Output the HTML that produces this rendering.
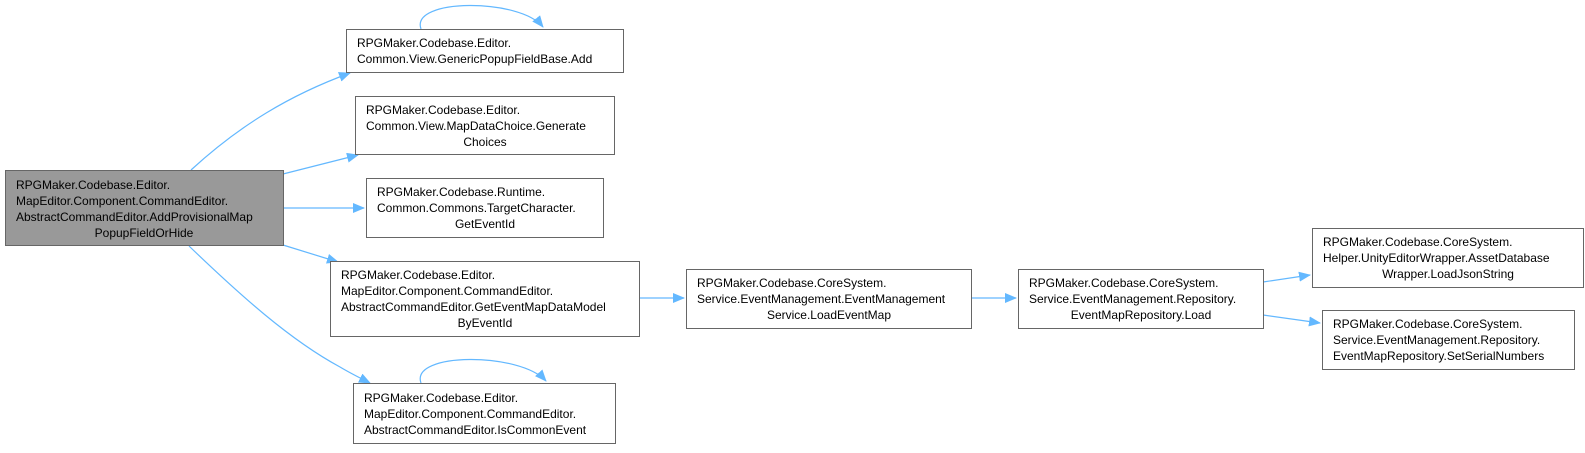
<!DOCTYPE html>
<html><head><meta charset="utf-8"><style>
body{margin:0;background:#fff;}
svg text{font-family:"Liberation Sans",Arial,sans-serif;font-size:12px;fill:#000;}
</style></head><body>
<svg width="1585" height="448" viewBox="0 0 1585 448" xmlns="http://www.w3.org/2000/svg">
<defs><marker id="a" markerWidth="12" markerHeight="10" refX="11" refY="5" orient="auto" markerUnits="userSpaceOnUse"><path d="M0,0 L12,5 L0,10 z" fill="#63b8ff"/></marker></defs>
<g fill="none" stroke="#63b8ff" stroke-width="1.2" marker-end="url(#a)">
<path d="M191,170 C240,125 290,95 350,73"/>
<path d="M283,174 L358,155"/>
<path d="M283,208 L364,208"/>
<path d="M283,245 L338,262"/>
<path d="M189,246 C240,295 290,340 340,367 C350,373 360,378 370,383"/>
<path d="M421,29 C410,-2 520,-2 543,27"/>
<path d="M421,383 C410,352 520,352 546,381"/>
<path d="M639,298 L684,298"/>
<path d="M971,298 L1016,298"/>
<path d="M1263,282 L1310,275"/>
<path d="M1263,315 L1320,323"/>
</g>
<g stroke-width="1">
<rect x="5.5" y="170.5" width="278" height="75" fill="#999" stroke="#666"/>
<rect x="346.5" y="29.5" width="277" height="43" fill="#fff" stroke="#666"/>
<rect x="355.5" y="96.5" width="259" height="58" fill="#fff" stroke="#666"/>
<rect x="366.5" y="178.5" width="237" height="59" fill="#fff" stroke="#666"/>
<rect x="330.5" y="261.5" width="309" height="75" fill="#fff" stroke="#666"/>
<rect x="353.5" y="383.5" width="262" height="60" fill="#fff" stroke="#666"/>
<rect x="686.5" y="269.5" width="285" height="59" fill="#fff" stroke="#666"/>
<rect x="1018.5" y="269.5" width="245" height="59" fill="#fff" stroke="#666"/>
<rect x="1312.5" y="228.5" width="271" height="59" fill="#fff" stroke="#666"/>
<rect x="1322.5" y="310.5" width="252" height="59" fill="#fff" stroke="#666"/>
</g>
<text x="16" y="189">RPGMaker.Codebase.Editor.</text>
<text x="16" y="205">MapEditor.Component.CommandEditor.</text>
<text x="16" y="221">AbstractCommandEditor.AddProvisionalMap</text>
<text x="144" y="237" text-anchor="middle">PopupFieldOrHide</text>

<text x="357" y="47">RPGMaker.Codebase.Editor.</text>
<text x="357" y="63">Common.View.GenericPopupFieldBase.Add</text>

<text x="366" y="114">RPGMaker.Codebase.Editor.</text>
<text x="366" y="130">Common.View.MapDataChoice.Generate</text>
<text x="485" y="146" text-anchor="middle">Choices</text>

<text x="377" y="196">RPGMaker.Codebase.Runtime.</text>
<text x="377" y="212">Common.Commons.TargetCharacter.</text>
<text x="485" y="228" text-anchor="middle">GetEventId</text>

<text x="341" y="279">RPGMaker.Codebase.Editor.</text>
<text x="341" y="295">MapEditor.Component.CommandEditor.</text>
<text x="341" y="311">AbstractCommandEditor.GetEventMapDataModel</text>
<text x="485" y="327" text-anchor="middle">ByEventId</text>

<text x="364" y="402">RPGMaker.Codebase.Editor.</text>
<text x="364" y="418">MapEditor.Component.CommandEditor.</text>
<text x="364" y="434">AbstractCommandEditor.IsCommonEvent</text>

<text x="697" y="287">RPGMaker.Codebase.CoreSystem.</text>
<text x="697" y="303">Service.EventManagement.EventManagement</text>
<text x="829" y="319" text-anchor="middle">Service.LoadEventMap</text>

<text x="1029" y="287">RPGMaker.Codebase.CoreSystem.</text>
<text x="1029" y="303">Service.EventManagement.Repository.</text>
<text x="1141" y="319" text-anchor="middle">EventMapRepository.Load</text>

<text x="1323" y="246">RPGMaker.Codebase.CoreSystem.</text>
<text x="1323" y="262">Helper.UnityEditorWrapper.AssetDatabase</text>
<text x="1448" y="278" text-anchor="middle">Wrapper.LoadJsonString</text>

<text x="1333" y="328">RPGMaker.Codebase.CoreSystem.</text>
<text x="1333" y="344">Service.EventManagement.Repository.</text>
<text x="1333" y="360">EventMapRepository.SetSerialNumbers</text>
</svg>
</body></html>
